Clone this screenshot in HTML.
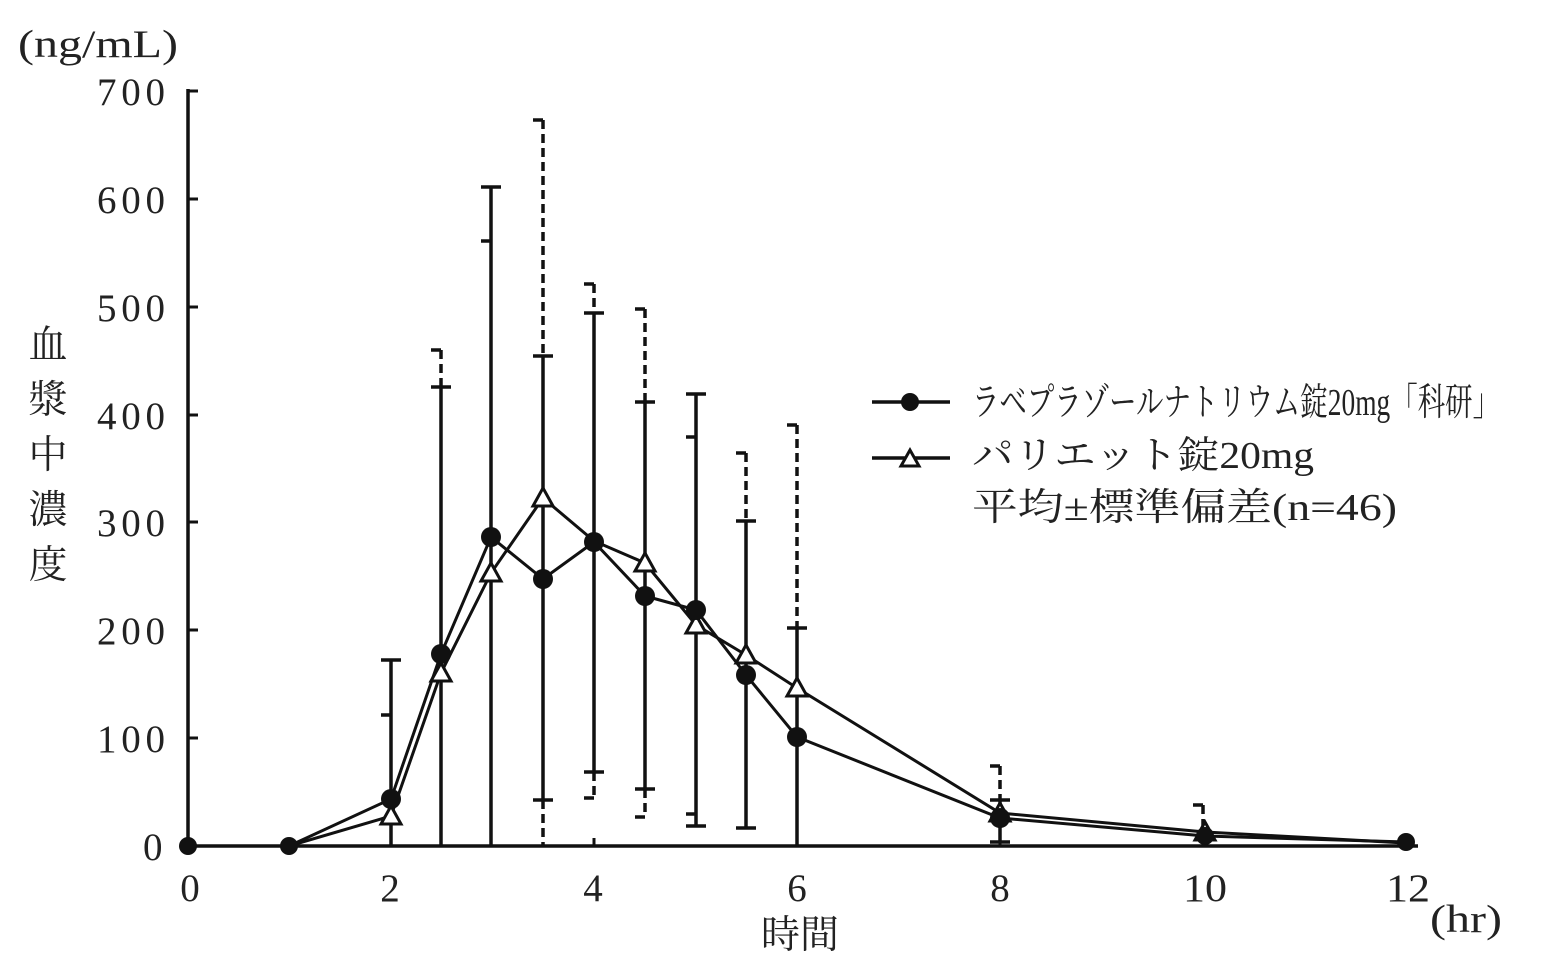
<!DOCTYPE html>
<html><head><meta charset="utf-8"><style>
body{margin:0;background:#fff}
svg text{font-family:"Liberation Serif","Noto Serif CJK JP","Noto Serif CJK SC",serif;fill:#222}
</style></head><body>
<svg width="1550" height="961" viewBox="0 0 1550 961" xmlns="http://www.w3.org/2000/svg">
<g stroke="#111" stroke-width="3.5" fill="none">
<line x1="188" y1="89" x2="188" y2="848"/>
<line x1="186" y1="846" x2="1418" y2="846"/>
<g stroke-width="3">
<line x1="188" y1="91" x2="198" y2="91"/><line x1="188" y1="199" x2="198" y2="199"/>
<line x1="188" y1="307" x2="198" y2="307"/><line x1="188" y1="415" x2="198" y2="415"/>
<line x1="188" y1="522" x2="198" y2="522"/><line x1="188" y1="630" x2="198" y2="630"/>
<line x1="188" y1="738" x2="198" y2="738"/>
<line x1="391" y1="846" x2="391" y2="838"/><line x1="594" y1="846" x2="594" y2="838"/>
<line x1="797" y1="846" x2="797" y2="838"/><line x1="1000" y1="846" x2="1000" y2="838"/>
<line x1="1203" y1="846" x2="1203" y2="838"/><line x1="1406" y1="846" x2="1406" y2="838"/>
</g>
<g stroke-width="3.5">
<line x1="391" y1="660" x2="391" y2="846"/><line x1="381" y1="660" x2="401" y2="660"/>
<line x1="441" y1="387" x2="441" y2="846"/><line x1="431" y1="387" x2="451" y2="387"/>
<line x1="491" y1="187" x2="491" y2="846"/><line x1="481" y1="187" x2="501" y2="187"/>
<line x1="543" y1="356" x2="543" y2="800"/><line x1="533" y1="356" x2="553" y2="356"/><line x1="533" y1="800" x2="553" y2="800"/>
<line x1="594" y1="313" x2="594" y2="772"/><line x1="584" y1="313" x2="604" y2="313"/><line x1="584" y1="772" x2="604" y2="772"/>
<line x1="645" y1="402" x2="645" y2="789"/><line x1="635" y1="402" x2="655" y2="402"/><line x1="635" y1="789" x2="655" y2="789"/>
<line x1="696" y1="394" x2="696" y2="826"/><line x1="686" y1="394" x2="706" y2="394"/><line x1="686" y1="826" x2="706" y2="826"/>
<line x1="746" y1="521" x2="746" y2="828"/><line x1="736" y1="521" x2="756" y2="521"/><line x1="736" y1="828" x2="756" y2="828"/>
<line x1="797" y1="628" x2="797" y2="846"/><line x1="787" y1="628" x2="807" y2="628"/>
<line x1="1000" y1="800" x2="1000" y2="842"/><line x1="990" y1="800" x2="1010" y2="800"/><line x1="990" y1="842" x2="1010" y2="842"/>
</g>
<g stroke-width="3.5" stroke-dasharray="9,5">
<line x1="441" y1="350" x2="441" y2="387"/>
<line x1="543" y1="120" x2="543" y2="356"/><line x1="543" y1="800" x2="543" y2="846"/>
<line x1="594" y1="284" x2="594" y2="313"/><line x1="594" y1="772" x2="594" y2="798"/>
<line x1="645" y1="309" x2="645" y2="402"/><line x1="645" y1="789" x2="645" y2="817"/>
<line x1="746" y1="453" x2="746" y2="521"/>
<line x1="797" y1="425" x2="797" y2="628"/>
<line x1="1000" y1="766" x2="1000" y2="800"/>
<line x1="1203" y1="805" x2="1203" y2="830"/>
</g>
<g stroke-width="3.5">
<line x1="381" y1="715" x2="391" y2="715"/>
<line x1="431" y1="350" x2="441" y2="350"/>
<line x1="481" y1="241" x2="491" y2="241"/>
<line x1="533" y1="120" x2="543" y2="120"/>
<line x1="584" y1="284" x2="594" y2="284"/><line x1="584" y1="798" x2="594" y2="798"/>
<line x1="635" y1="309" x2="645" y2="309"/><line x1="635" y1="817" x2="645" y2="817"/>
<line x1="686" y1="437" x2="696" y2="437"/><line x1="686" y1="814" x2="696" y2="814"/>
<line x1="736" y1="453" x2="746" y2="453"/>
<line x1="787" y1="425" x2="797" y2="425"/>
<line x1="990" y1="766" x2="1000" y2="766"/>
<line x1="1193" y1="805" x2="1203" y2="805"/>
</g>
<polyline stroke-width="3" points="188,846 289,846 391,816 441,673 491,573 543,498 594,541 645,563 696,625 746,655 797,688 1000,813 1205,832 1406,843"/>
<polyline stroke-width="3" points="188,846 289,846 391,799 441,654 491,537 543,579 594,542 645,596 696,610 746,675 797,737 1000,818 1205,836 1406,842"/>
</g>
<g fill="#fff" stroke="#111" stroke-width="3">
<polygon points="391,806 381,824 401,824"/><polygon points="441,663 431,681 451,681"/>
<polygon points="491,563 481,581 501,581"/><polygon points="543,488 533,506 553,506"/>
<polygon points="645,553 635,571 655,571"/><polygon points="696,615 686,633 706,633"/>
<polygon points="746,645 736,663 756,663"/><polygon points="797,678 787,696 807,696"/>
<polygon points="1000,803 990,821 1010,821"/><polygon points="1205,822 1195,840 1215,840"/>
</g>
<g fill="#111">
<circle cx="188" cy="846" r="9"/><circle cx="289" cy="846" r="9"/><circle cx="391" cy="799" r="10"/>
<circle cx="441" cy="654" r="10"/><circle cx="491" cy="537" r="10"/><circle cx="543" cy="579" r="10"/>
<circle cx="594" cy="542" r="10"/><circle cx="645" cy="596" r="10"/><circle cx="696" cy="610" r="10"/>
<circle cx="746" cy="675" r="10"/><circle cx="797" cy="737" r="10"/><circle cx="1000" cy="818" r="10"/>
<circle cx="1205" cy="836" r="9"/><circle cx="1406" cy="842" r="9"/>
</g>
<g font-size="39" lengthAdjust="spacingAndGlyphs">
<text x="97" y="105" textLength="68">700</text><text x="97" y="213" textLength="68">600</text><text x="97" y="321" textLength="68">500</text>
<text x="97" y="429" textLength="68">400</text><text x="97" y="536" textLength="68">300</text><text x="97" y="644" textLength="68">200</text>
<text x="97" y="752" textLength="68">100</text><text x="143" y="860" textLength="22">0</text>
</g>
<text x="18" y="57" font-size="39" textLength="160" lengthAdjust="spacingAndGlyphs">(ng/mL)</text>
<g font-size="39" text-anchor="middle">
<text x="190" y="901">0</text><text x="390" y="901">2</text><text x="593" y="901">4</text>
<text x="797" y="901">6</text><text x="1000" y="901">8</text><text x="1205" y="901" textLength="44" lengthAdjust="spacingAndGlyphs">10</text>
<text x="1408" y="901" textLength="44" lengthAdjust="spacingAndGlyphs">12</text>
<text x="800" y="948">時間</text>
</g>
<text x="1430" y="932" font-size="39" textLength="72" lengthAdjust="spacingAndGlyphs">(hr)</text>
<g font-size="39" text-anchor="middle">
<text x="48" y="358">血</text><text x="48" y="413">漿</text><text x="48" y="468">中</text>
<text x="48" y="523">濃</text><text x="48" y="578">度</text>
</g>
<g stroke="#111" stroke-width="3.5">
<line x1="872" y1="402" x2="950" y2="402"/><line x1="872" y1="458" x2="950" y2="458"/>
</g>
<circle cx="910" cy="402" r="9" fill="#111"/>
<polygon points="910,450 901,466 919,466" fill="#fff" stroke="#111" stroke-width="3"/>
<text x="972" y="415" font-size="38" textLength="528" lengthAdjust="spacingAndGlyphs">ラベプラゾールナトリウム錠20mg「科研」</text>
<text x="972" y="468" font-size="38" textLength="342" lengthAdjust="spacingAndGlyphs">パリエット錠20mg</text>
<text x="972" y="520" font-size="38" textLength="425" lengthAdjust="spacingAndGlyphs">平均±標準偏差(n=46)</text>
</svg>
</body></html>
